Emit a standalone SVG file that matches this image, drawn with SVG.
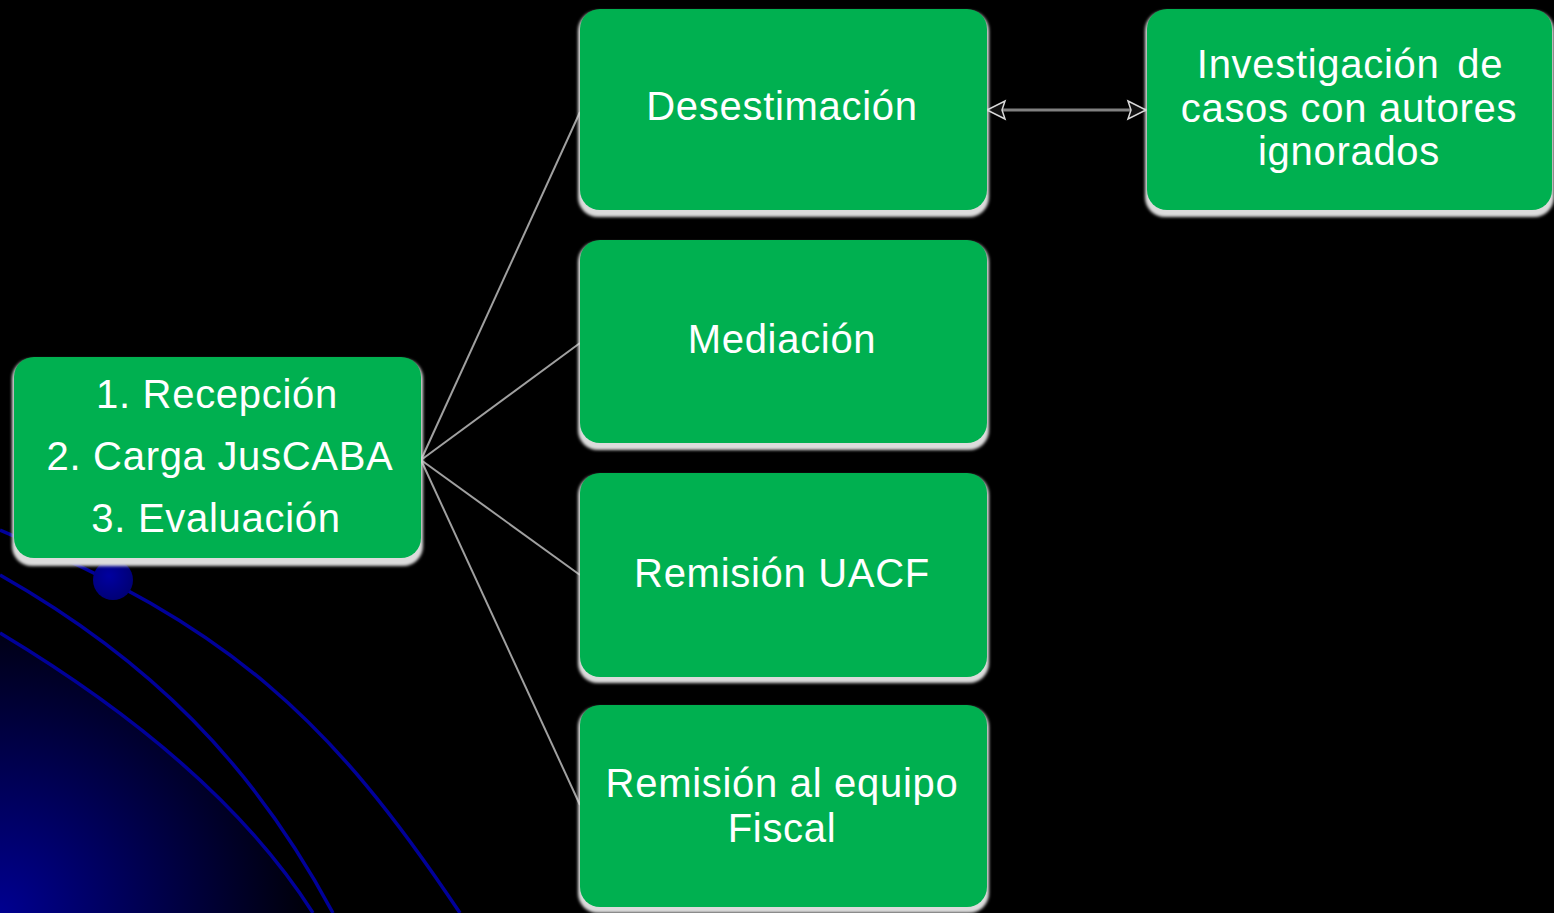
<svg xmlns="http://www.w3.org/2000/svg" width="1554" height="913" viewBox="0 0 1554 913">
<defs>
<radialGradient id="corner" cx="0" cy="913" r="330" gradientUnits="userSpaceOnUse">
<stop offset="0" stop-color="#000090"/>
<stop offset="1" stop-color="#000000"/>
</radialGradient>
<radialGradient id="dot" cx="0.4" cy="0.4" r="0.7">
<stop offset="0" stop-color="#0000a0"/>
<stop offset="1" stop-color="#000070"/>
</radialGradient>
<filter id="blur" x="-5%" y="-5%" width="110%" height="115%">
<feGaussianBlur stdDeviation="1.6"/>
</filter>
<marker id="ah" viewBox="0 0 22 22" refX="20" refY="11" markerWidth="22" markerHeight="22" markerUnits="userSpaceOnUse" orient="auto-start-reverse">
<path d="M2,2 L20,11 L2,20 L5,11 Z" fill="#111" stroke="#d8d8d8" stroke-width="1.5" stroke-linejoin="miter"/>
</marker>
</defs>
<style>
.sh{fill:#dcdcdc;filter:url(#blur)}
.bx{fill:#00b050}
.t{font-family:"Liberation Sans",Arial,sans-serif;font-size:40px;fill:#fff;text-anchor:middle;letter-spacing:0.7px}
.cn{stroke:#a0a0a0;stroke-width:2;fill:none}
.bl{stroke:#000099;stroke-width:3.5;fill:none}
</style>
<rect width="1554" height="913" fill="#000"/>
<g id="background">
<path d="M0,633 C130,711 243,803 313,913 L0,913 Z" fill="url(#corner)"/>
<path class="bl" d="M0,530 C230,627 330,718 460,913"/>
<path class="bl" d="M0,575 C150,660 253,764 333,913"/>
<path class="bl" d="M0,633 C130,711 243,803 313,913"/>
<circle cx="113" cy="580" r="20" fill="url(#dot)"/>
</g>
<g id="connectors">
<line class="cn" x1="421" y1="460" x2="580" y2="112"/>
<line class="cn" x1="421" y1="460" x2="580" y2="343"/>
<line class="cn" x1="421" y1="460" x2="580" y2="575"/>
<line class="cn" x1="421" y1="460" x2="580" y2="805"/>
<line x1="987" y1="110" x2="1146" y2="110" stroke="#808080" stroke-width="3" marker-start="url(#ah)" marker-end="url(#ah)"/>
</g>
<g id="n-inicio">
<rect class="sh" x="12" y="359" width="411" height="207" rx="20"/>
<rect class="bx" x="14" y="357" width="407" height="201" rx="20"/>
<text class="t" x="217" y="408">1. Recepción</text>
<text class="t" x="220" y="470" letter-spacing="1.5">2. Carga JusCABA</text>
<text class="t" x="216" y="532">3. Evaluación</text>
</g>
<g id="n-desestimacion">
<rect class="sh" x="578" y="11" width="411" height="206" rx="20"/>
<rect class="bx" x="580" y="9" width="407" height="201" rx="20"/>
<text class="t" x="782" y="120">Desestimación</text>
</g>
<g id="n-investigacion">
<rect class="sh" x="1145" y="11" width="409" height="206" rx="20"/>
<rect class="bx" x="1147" y="9" width="405" height="201" rx="20"/>
<text class="t" x="1350" y="78" word-spacing="6">Investigación de</text>
<text class="t" x="1349" y="122">casos con autores</text>
<text class="t" x="1349" y="165">ignorados</text>
</g>
<g id="n-mediacion">
<rect class="sh" x="578" y="242" width="411" height="208" rx="20"/>
<rect class="bx" x="580" y="240" width="407" height="203" rx="20"/>
<text class="t" x="782" y="353">Mediación</text>
</g>
<g id="n-uacf">
<rect class="sh" x="578" y="475" width="411" height="208" rx="20"/>
<rect class="bx" x="580" y="473" width="407" height="204" rx="20"/>
<text class="t" x="782" y="587">Remisión UACF</text>
</g>
<g id="n-fiscal">
<rect class="sh" x="578" y="707" width="411" height="206" rx="20"/>
<rect class="bx" x="580" y="705" width="407" height="202" rx="20"/>
<text class="t" x="782" y="797">Remisión al equipo</text>
<text class="t" x="782" y="842">Fiscal</text>
</g>
</svg>
